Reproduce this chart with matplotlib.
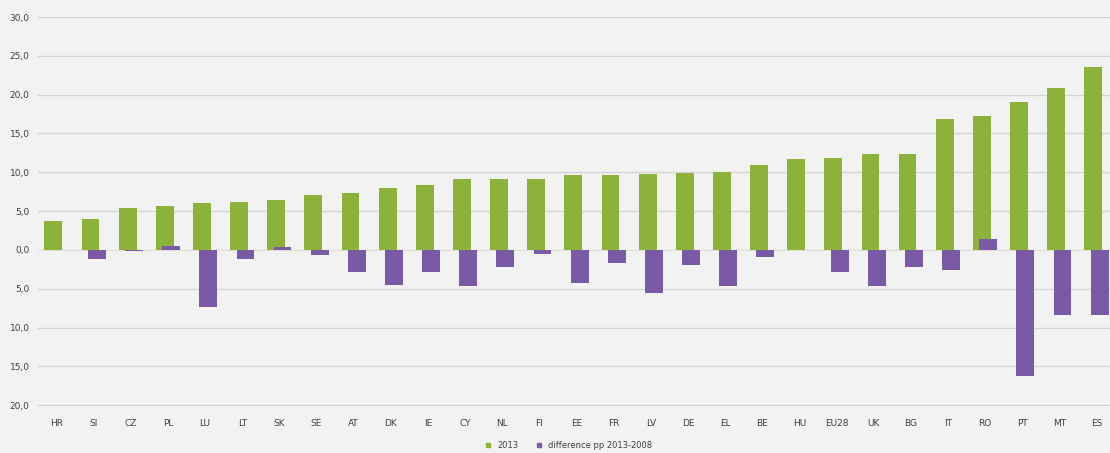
import matplotlib
matplotlib.use("Agg")
import matplotlib.pyplot as plt
from matplotlib.lines import Line2D
import numpy as np

categories = ["HR", "SI", "CZ", "PL", "LU", "LT", "SK", "SE", "AT", "DK", "IE", "CY", "NL", "FI",
              "EE", "FR", "LV", "DE", "EL", "BE", "HU", "EU28", "UK", "BG", "IT", "RO", "PT", "MT", "ES"]
values_2013 = [3.7, 4.0, 5.4, 5.6, 6.1, 6.2, 6.4, 7.1, 7.3, 8.0, 8.4, 9.1, 9.1, 9.2,
               9.6, 9.6, 9.8, 9.9, 10.0, 11.0, 11.7, 11.8, 12.3, 12.3, 16.9, 17.2, 19.1, 20.9, 23.5]
diff_2013_2008 = [0.0, -1.2, -0.2, 0.5, -7.3, -1.2, 0.4, -0.7, -2.8, -4.5, -2.9, -4.6, -2.2, -0.5,
                  -4.3, -1.7, -5.6, -1.9, -4.6, -0.9, 0.0, -2.8, -4.6, -2.2, -2.6, 1.4, -16.3, -8.4, -8.4]
y_ticks = [-20, -15, -10, -5, 0, 5, 10, 15, 20, 25, 30]
y_tick_labels = ["20,0", "15,0", "10,0", "5,0", "0,0", "5,0", "10,0", "15,0", "20,0", "25,0", "30,0"]
series_names = ["2013", "difference pp 2013-2008"]

green = "#8db23c"
purple = "#7a5aa5"
bg = "#f2f2f2"

fig = plt.figure(figsize=(11.10, 4.53), dpi=100, facecolor=bg)
ax = fig.add_axes([38/1110, 47/453, 1077/1110, 389/453])
ax.set_facecolor(bg)

x = np.arange(len(categories))
w = 0.48
off = 0.085
ax.bar(x - off, values_2013, width=w, color=green, zorder=3)
ax.bar(x + off, diff_2013_2008, width=w, color=purple, zorder=3)

ax.set_xlim(-0.5, len(categories) - 0.5)
ax.set_ylim(-20.1, 30)
ax.set_yticks(y_ticks)
ax.set_yticklabels(y_tick_labels)
ax.set_xticks(x)
ax.set_xticklabels(categories)
for t in y_ticks:
    if t == 0:
        ax.axhline(t, color="#e0e0d8", lw=1.0, zorder=2)
    else:
        ax.axhline(t, color="#d4d4d4", lw=1.0, zorder=1)
for s in ax.spines.values():
    s.set_visible(False)
ax.tick_params(axis="both", length=0, labelsize=6.5, colors="#404040")
ax.tick_params(axis="y", pad=6)
ax.tick_params(axis="x", pad=9)

handles = [Line2D([], [], marker="s", ls="", color=green, markersize=3.5),
           Line2D([], [], marker="s", ls="", color=purple, markersize=3.5)]
fig.legend(handles, series_names, loc="center", bbox_to_anchor=(566/1110, 1 - 445/453),
           ncol=2, frameon=False, fontsize=6, handletextpad=0.1, columnspacing=1.5,
           labelcolor="#404040")

fig.savefig("out.png", dpi=100, facecolor=bg)
